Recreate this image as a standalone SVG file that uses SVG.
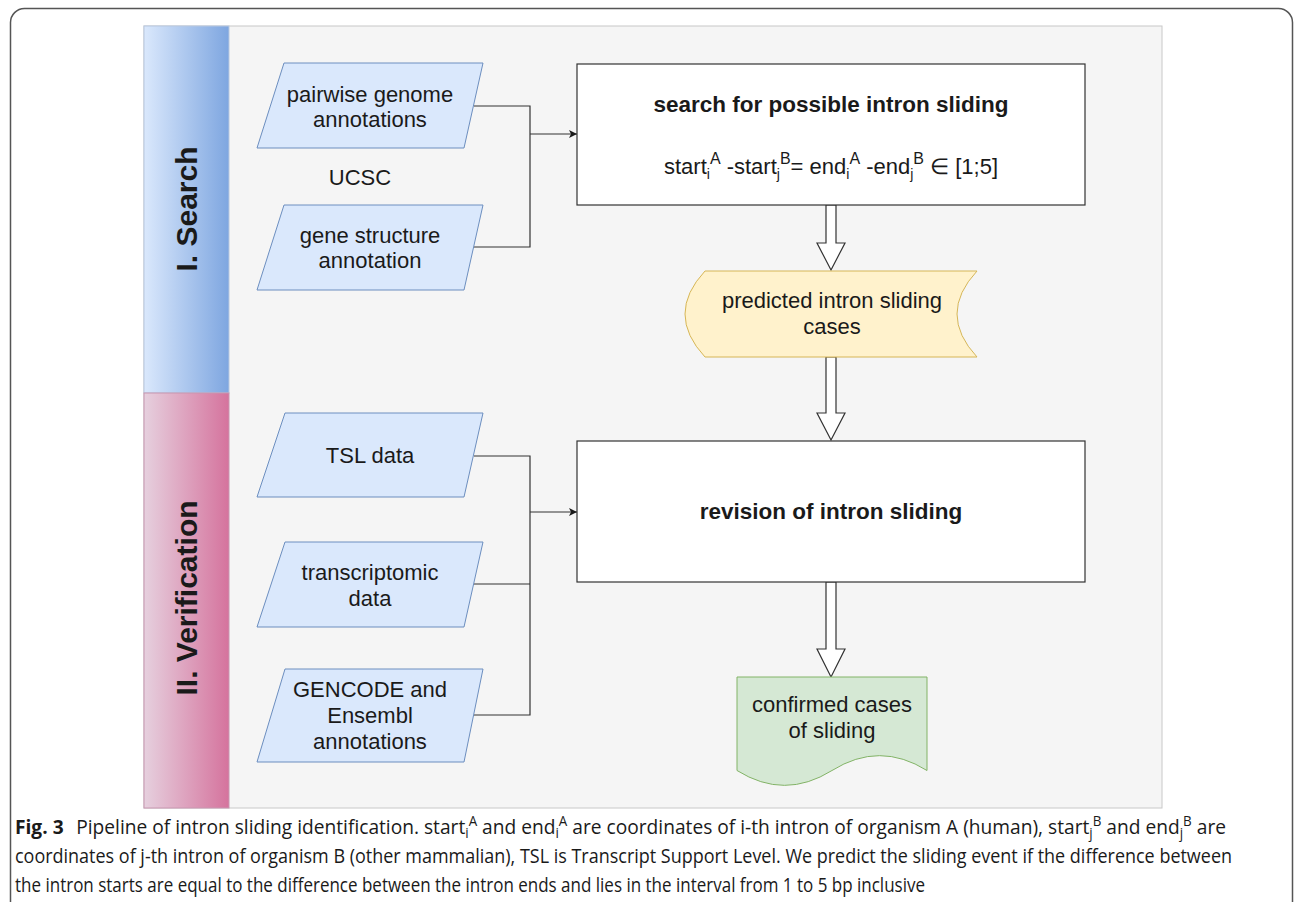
<svg xmlns="http://www.w3.org/2000/svg" width="1295" height="902" viewBox="0 0 1295 902">
<defs>
<linearGradient id="gBlue" x1="0" y1="0" x2="1" y2="0"><stop offset="0" stop-color="#dae8fc"/><stop offset="1" stop-color="#7ea6e0"/></linearGradient>
<linearGradient id="gPink" x1="0" y1="0" x2="1" y2="0"><stop offset="0" stop-color="#e6d0de"/><stop offset="1" stop-color="#d5739d"/></linearGradient>
<marker id="arr" markerUnits="userSpaceOnUse" markerWidth="9" markerHeight="8" refX="8" refY="4" orient="auto"><path d="M0,0 L8,4 L0,8 L2,4 Z" fill="#1a1a1a"/></marker>
<style>
.t{font-family:"Liberation Sans",Arial,sans-serif;fill:#1a1a1a;font-size:22px;text-anchor:middle}
.b{font-weight:bold;font-size:22.5px}
.lane{font-family:"Liberation Sans",Arial,sans-serif;font-weight:bold;font-size:30px;fill:#1a1a1a;text-anchor:middle}
.in{fill:#dae8fc;stroke:#6c8ebf;stroke-width:1}
.box{fill:#ffffff;stroke:#333333;stroke-width:1.2}
.blk{fill:#ffffff;stroke:#333333;stroke-width:1.2}
.con{fill:none;stroke:#333333;stroke-width:1.2}
.cap{font-family:"Open Sans","Liberation Sans",sans-serif;font-size:20px;fill:#1a1a1a}
.sm{font-size:14px}
.fs{font-size:16px}
</style>
</defs>
<rect x="0" y="0" width="1295" height="902" fill="#ffffff"/>
<rect x="10.5" y="8.5" width="1282" height="912" rx="14" fill="#ffffff" stroke="#555555" stroke-width="1.5"/>
<rect x="144" y="26" width="1018" height="782" fill="#f5f5f5" stroke="#c8c8c8" stroke-width="1"/>
<g id="lane-search">
<rect x="144" y="26" width="85" height="367" fill="url(#gBlue)" stroke="#b8c8e0" stroke-width="1"/>
<text class="lane" transform="translate(197,209) rotate(-90)">I. Search</text>
</g>
<g id="lane-verification">
<rect x="144" y="393" width="85" height="415" fill="url(#gPink)" stroke="#c896b0" stroke-width="1"/>
<text class="lane" transform="translate(197,598) rotate(-90)">II. Verification</text>
</g>
<g id="connectors">
<path class="con" d="M474,106 H530 V247 H474"/>
<path class="con" d="M530,134 H577" marker-end="url(#arr)"/>
<path class="con" d="M474,456 H530 V715 H474"/>
<path class="con" d="M474,584 H530"/>
<path class="con" d="M530,512 H577" marker-end="url(#arr)"/>
<path class="blk" d="M826,205 V243 H817 L831,270 L845,243 H836 V205 Z"/>
<path class="blk" d="M826,357 V413 H817 L831,440 L845,413 H836 V357 Z"/>
<path class="blk" d="M826,582 V649 H817 L831,677 L845,649 H836 V582 Z"/>
</g>
<g id="pairwise">
<polygon class="in" points="284,63 483,63 464,148 257,148"/>
<text class="t" x="370" y="102">pairwise genome</text>
<text class="t" x="370" y="127">annotations</text>
</g>
<g id="ucsc">
<text class="t" x="360" y="185">UCSC</text>
</g>
<g id="gene-structure">
<polygon class="in" points="284,205 483,205 464,290 257,290"/>
<text class="t" x="370" y="243">gene structure</text>
<text class="t" x="370" y="268">annotation</text>
</g>
<g id="search-box">
<rect class="box" x="577" y="64" width="508" height="141"/>
<text class="t b" x="831" y="112">search for possible intron sliding</text>
<text class="t" x="831" y="174">start<tspan class="sm" dy="5">i</tspan><tspan class="fs" dy="-15">A</tspan><tspan dy="10"> -start</tspan><tspan class="sm" dy="5">j</tspan><tspan class="fs" dy="-15">B</tspan><tspan dy="10">= end</tspan><tspan class="sm" dy="5">i</tspan><tspan class="fs" dy="-15">A</tspan><tspan dy="10"> -end</tspan><tspan class="sm" dy="5">j</tspan><tspan class="fs" dy="-15">B</tspan><tspan dy="10"> ∈ [1;5]</tspan></text>
</g>
<g id="predicted">
<path d="M705,271 H977 Q937,314 977,357 H705 Q665,314 705,271 Z" fill="#fff2cc" stroke="#d6b656" stroke-width="1"/>
<text class="t" x="832" y="308">predicted intron sliding</text>
<text class="t" x="832" y="334">cases</text>
</g>
<g id="tsl">
<polygon class="in" points="285,413 483,413 464,497 257,497"/>
<text class="t" x="370" y="463">TSL data</text>
</g>
<g id="transcriptomic">
<polygon class="in" points="285,542 483,542 464,627 257,627"/>
<text class="t" x="370" y="580">transcriptomic</text>
<text class="t" x="370" y="606">data</text>
</g>
<g id="gencode">
<polygon class="in" points="285,669 483,669 464,762 257,762"/>
<text class="t" x="370" y="697">GENCODE and</text>
<text class="t" x="370" y="723">Ensembl</text>
<text class="t" x="370" y="749">annotations</text>
</g>
<g id="revision-box">
<rect class="box" x="577" y="441" width="508" height="141"/>
<text class="t b" x="831" y="519">revision of intron sliding</text>
</g>
<g id="confirmed">
<path d="M737,677 H927 V770.5 Q879.5,740.8 832,770.5 Q784.5,800.2 737,770.5 Z" fill="#d5e8d4" stroke="#82b366" stroke-width="1"/>
<text class="t" x="832" y="712">confirmed cases</text>
<text class="t" x="832" y="738">of sliding</text>
</g>
<g id="caption">
<text class="cap" x="15" y="834" textLength="1211" lengthAdjust="spacingAndGlyphs"><tspan font-weight="bold">Fig. 3</tspan><tspan dx="8"> Pipeline of intron sliding identification. start</tspan><tspan class="sm" dy="4">i</tspan><tspan class="sm" dy="-12">A</tspan><tspan dy="8"> and end</tspan><tspan class="sm" dy="4">i</tspan><tspan class="sm" dy="-12">A</tspan><tspan dy="8"> are coordinates of i-th intron of organism A (human), start</tspan><tspan class="sm" dy="4">j</tspan><tspan class="sm" dy="-12">B</tspan><tspan dy="8"> and end</tspan><tspan class="sm" dy="4">j</tspan><tspan class="sm" dy="-12">B</tspan><tspan dy="8"> are</tspan></text>
<text class="cap" x="15" y="863" textLength="1217" lengthAdjust="spacingAndGlyphs">coordinates of j-th intron of organism B (other mammalian), TSL is Transcript Support Level. We predict the sliding event if the difference between</text>
<text class="cap" x="15" y="892" textLength="910" lengthAdjust="spacingAndGlyphs">the intron starts are equal to the difference between the intron ends and lies in the interval from 1 to 5 bp inclusive</text>
</g>
</svg>
